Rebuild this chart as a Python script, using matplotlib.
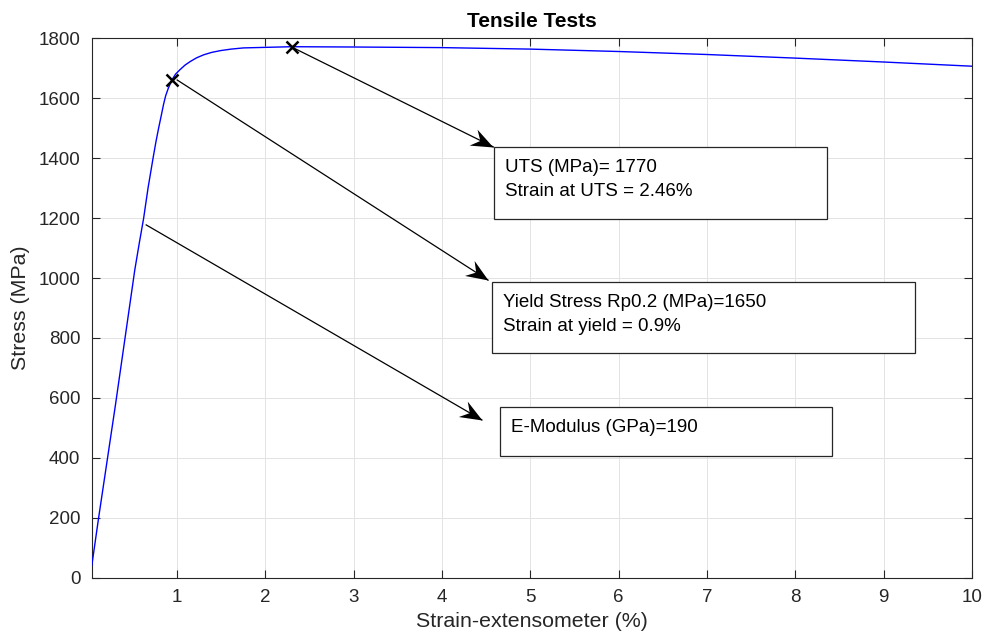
import matplotlib
matplotlib.use("Agg")
import numpy as np
import matplotlib.pyplot as plt
from matplotlib.patches import Rectangle
from matplotlib.path import Path
from matplotlib.markers import MarkerStyle
from matplotlib.transforms import Affine2D

plt.rcParams["font.family"] = ["Liberation Sans", "DejaVu Sans"]

# stress-strain curve
strain = [0.034, 0.11, 0.30, 0.52, 0.57, 0.62, 0.67, 0.73, 0.76, 0.79, 0.82, 0.845,
          0.87, 0.90, 0.94, 0.98, 1.03, 1.09, 1.15, 1.22, 1.30, 1.39, 1.49, 1.61,
          1.75, 2.02, 2.30, 3, 4, 5, 6, 7, 8, 9, 10]
stress = [43, 200, 575, 1027, 1115, 1199, 1300, 1405, 1455, 1500, 1542, 1578,
          1608, 1633, 1660, 1679, 1694, 1710, 1722, 1734, 1744, 1752, 1758, 1763,
          1767, 1769, 1771, 1770, 1768, 1763, 1755, 1745, 1733, 1720, 1706]

# marked points (yield, UTS)
mark_x = [0.94, 2.30]
mark_y = [1660, 1771]

# annotation boxes: (x0, y0, x1, y1) in data units, text lines
box_rects = [(4.59, 1196, 8.36, 1436), (4.57, 750, 9.36, 988), (4.66, 407, 8.42, 569)]
box_lines = [["UTS (MPa)= 1770", "Strain at UTS = 2.46%"],
             ["Yield Stress Rp0.2 (MPa)=1650", "Strain at yield = 0.9%"],
             ["E-Modulus (GPa)=190"]]
box_text_x = [4.71, 4.69, 4.78]
box_text_y = [[1367, 1287], [920, 837], [500]]

# arrows: start -> end
arrow_start = [(2.317, 1767), (1.0, 1660), (0.649, 1177)]
arrow_end = [(4.58, 1437), (4.52, 993), (4.45, 527)]

# notched ("vback") arrow head, tip at origin pointing +x
HEAD = Path([(0, 0), (-1, 0.4), (-0.66, 0), (-1, -0.4), (0, 0)],
            [Path.MOVETO, Path.LINETO, Path.LINETO, Path.LINETO, Path.CLOSEPOLY])

fig = plt.figure(figsize=(9.82, 6.41), dpi=100)
ax = fig.add_axes([0.0932, 0.0983, 0.8966, 0.8424])
ax.set_xlim(0.03, 10)
ax.set_ylim(0, 1800)

ax.plot(strain, stress, color="#0000ff", lw=1.0, zorder=3)
ax.plot(mark_x, mark_y, "x", color="k", ms=8, mew=1.8, zorder=5)

for (x0, y0, x1, y1), lines, tx, tys in zip(box_rects, box_lines, box_text_x, box_text_y):
    ax.add_patch(Rectangle((x0, y0), x1 - x0, y1 - y0, facecolor="white",
                           edgecolor="#262626", lw=0.9, zorder=4))
    for s, ty in zip(lines, tys):
        ax.text(tx, ty, s, fontsize=13.5, color="k", va="center", ha="left", zorder=6)

for s, e in zip(arrow_start, arrow_end):
    ax.plot([s[0], e[0]], [s[1], e[1]], color="k", lw=0.9, zorder=6)
    (px0, py0), (px1, py1) = ax.transData.transform([s, e])
    ang = np.degrees(np.arctan2(py1 - py0, px1 - px0))
    m = MarkerStyle(HEAD, transform=Affine2D().rotate_deg(ang))
    ax.plot([e[0]], [e[1]], marker=m, ms=32, color="k", mew=0, ls="none", zorder=7)

ax.set_xticks(range(1, 11))
ax.set_yticks(range(0, 1801, 200))
ax.grid(True, color="#e3e3e3", lw=0.7)
ax.set_axisbelow(True)
ax.tick_params(direction="in", top=True, right=True, length=6, width=0.8,
               colors="#262626", labelsize=13.5, pad=8)
for sp in ax.spines.values():
    sp.set_color("#262626")
    sp.set_linewidth(0.8)

ax.set_xlabel("Strain-extensometer (%)", fontsize=15.4, color="#262626", labelpad=4)
ax.set_ylabel("Stress (MPa)", fontsize=15.4, color="#262626", labelpad=6)
ax.set_title("Tensile Tests", fontsize=15, fontweight="bold", pad=8)

fig.savefig("out.png", dpi=100)
